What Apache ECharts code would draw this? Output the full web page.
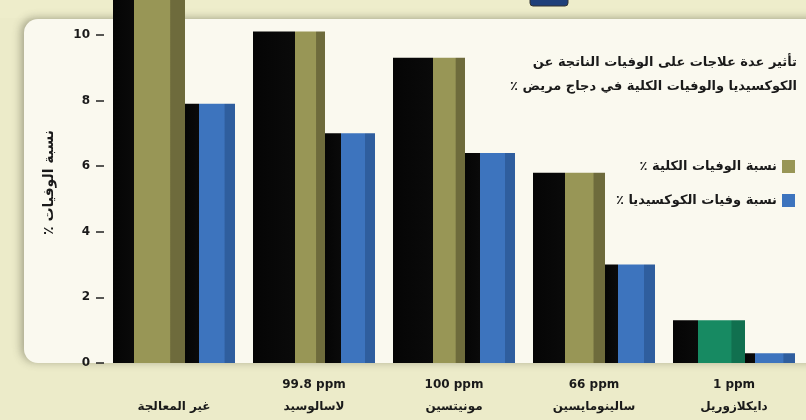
<!DOCTYPE html>
<html>
<head>
<meta charset="utf-8">
<script src="https://cdn.jsdelivr.net/npm/echarts@6/dist/echarts.min.js"></script>
<style>
html,body{margin:0;padding:0;background:#ecebc9;}
#chart{width:806px;height:420px;}
</style>
</head>
<body>
<div id="chart"></div>
<script>
// ---- data ----
var categories = ['\nغير المعالجة', '99.8 ppm\nلاسالوسيد', '100 ppm\nمونيتسين', '66 ppm\nسالينومايسين', '1 ppm\nدايكلازوريل'];
var totalMortality = [12, 10.1, 9.3, 5.8, 1.3];
var coccidiosisMortality = [7.9, 7.0, 6.4, 3.0, 0.3];
var yTicks = [0, 2, 4, 6, 8, 10];
var seriesNames = ['نسبة الوفيات الكلية ٪', 'نسبة وفيات الكوكسيديا ٪'];
var titleLines = ['تأثير عدة علاجات على الوفيات الناتجة عن', 'الكوكسيديا والوفيات الكلية في دجاج مريض ٪'];
var yAxisName = 'نسبة الوفيات ٪';

// ---- styles (not data) ----
var RLM = '\u200F';
function rtl(s) { return RLM + s + RLM; }
var OLIVE = '#989656', OLIVE_DARK = '#6e6b3c', BLUE = '#3d74be', BLUE_DARK = '#2f5e9e', GREEN = '#178a62', GREEN_DARK = '#11704f';
var totalSide = [0.29, 0.58, 0.55, 0.45, 0.35];
var coccSide = [0.28, 0.32, 0.30, 0.25, 0.2];
var totalFace = [OLIVE, OLIVE, OLIVE, OLIVE, GREEN];
var totalFaceDark = [OLIVE_DARK, OLIVE_DARK, OLIVE_DARK, OLIVE_DARK, GREEN_DARK];

function faceGradient(side, c, cd) {
  return {
    type: 'linear', x: 0, y: 0, x2: 1, y2: 0,
    colorStops: [
      {offset: 0, color: '#050505'},
      {offset: side, color: '#0a0a0a'},
      {offset: side + 0.001, color: c},
      {offset: side + (1 - side) * 0.7, color: c},
      {offset: side + (1 - side) * 0.72, color: cd},
      {offset: 1, color: cd}
    ]
  };
}

var totalData = totalMortality.map(function (v, i) {
  return {value: v, itemStyle: {color: faceGradient(totalSide[i], totalFace[i], totalFaceDark[i])}};
});
var coccData = coccidiosisMortality.map(function (v, i) {
  return {value: v, itemStyle: {color: faceGradient(coccSide[i], BLUE, BLUE_DARK)}};
});
var nameTotal = rtl(seriesNames[0]), nameCocc = rtl(seriesNames[1]);

var FONT = 'DejaVu Sans';
var chart = echarts.init(document.getElementById('chart'));
chart.setOption({
  backgroundColor: '#ecebc9',
  animation: false,
  textStyle: {fontFamily: FONT},
  graphic: [
    {type: 'rect', z: -10, silent: true,
     shape: {x: 0, y: 0, width: 806, height: 18}, style: {fill: '#eeedcb'}},
    {type: 'rect', z: -9, silent: true,
     shape: {x: 530, y: -6, width: 38, height: 12, r: 3}, style: {fill: '#1f3f7a', stroke: '#333', lineWidth: 1}},
    {type: 'rect', z: -8, silent: true,
     shape: {x: 24, y: 19, width: 800, height: 344, r: [14, 0, 0, 14]},
     style: {fill: '#faf9ef', shadowBlur: 8, shadowColor: 'rgba(80,80,60,0.45)', shadowOffsetX: -3, shadowOffsetY: -1}},
    {type: 'text', right: 9, top: 56, z: 10,
     style: {text: rtl(titleLines[0]), font: 'bold 13px ' + FONT, fill: '#1a1a1a'}},
    {type: 'text', right: 9, top: 80, z: 10,
     style: {text: rtl(titleLines[1]), font: 'bold 13px ' + FONT, fill: '#1a1a1a'}}
  ],
  legend: {
    orient: 'vertical',
    right: 11,
    top: 160,
    padding: 0,
    align: 'right',
    itemWidth: 13,
    itemHeight: 13,
    itemGap: 21,
    icon: 'rect',
    textStyle: {fontFamily: FONT, fontWeight: 'bold', fontSize: 13, color: '#1a1a1a', padding: [0, 0, 0, 0]},
    data: [
      {name: nameTotal, itemStyle: {color: OLIVE}},
      {name: nameCocc, itemStyle: {color: BLUE}}
    ]
  },
  grid: {left: 104, right: 2, top: 2, bottom: 57, containLabel: false},
  xAxis: {
    type: 'category',
    data: categories,
    axisLine: {show: false},
    axisTick: {show: false},
    axisLabel: {fontFamily: FONT, fontWeight: 'bold', fontSize: 12, color: '#1a1a1a', lineHeight: 22, margin: 11,
      formatter: function (v) { return v.split('\n').map(rtl).join('\n'); }}
  },
  yAxis: {
    type: 'value',
    min: 0,
    max: 11,
    interval: 2,
    name: rtl(yAxisName),
    nameLocation: 'middle',
    nameGap: 48,
    nameTextStyle: {fontFamily: FONT, fontWeight: 'bold', fontSize: 14, color: '#1a1a1a'},
    splitLine: {show: false},
    axisLine: {show: false},
    axisTick: {show: true, inside: false, length: 8, lineStyle: {color: '#222', width: 1.5}},
    axisLabel: {
      showMaxLabel: false,
      margin: 14,
      fontFamily: FONT, fontWeight: 'bold', fontSize: 12, color: '#1a1a1a',
      formatter: function (v) { return yTicks.indexOf(v) >= 0 ? String(v) : ''; }
    }
  },
  series: [
    {name: nameTotal, type: 'bar', data: totalData, barWidth: 72, barGap: '0%', clip: false,
     itemStyle: {color: OLIVE}},
    {name: nameCocc, type: 'bar', data: coccData, barWidth: 50, barGap: '0%', clip: false,
     itemStyle: {color: BLUE}}
  ]
});
</script>
</body>
</html>
